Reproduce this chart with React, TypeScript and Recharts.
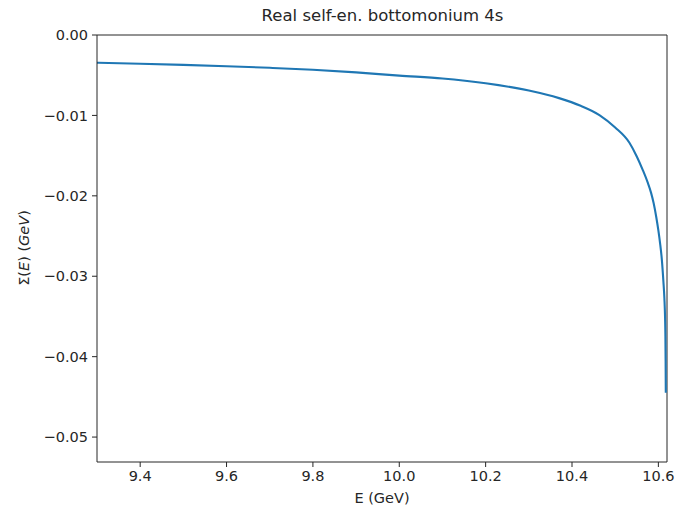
import { Label, Line, LineChart, ReferenceLine, XAxis, YAxis } from "recharts";

const energy = [
  9.3, 9.4, 9.5, 9.6, 9.7, 9.8, 9.9, 10.0, 10.1, 10.2, 10.3, 10.37, 10.42, 10.4635, 10.5, 10.533, 10.55, 10.564,
  10.575, 10.583, 10.589, 10.595, 10.6, 10.604, 10.608, 10.6116, 10.614, 10.6155, 10.6163, 10.6168, 10.6172,
];
const selfEnergy = [
  -0.00345, -0.00358, -0.00372, -0.00388, -0.00408, -0.00432, -0.00465, -0.00505, -0.0054, -0.006, -0.0069,
  -0.00785, -0.0088, -0.00995, -0.0115, -0.0134, -0.0151, -0.0168, -0.0183, -0.0196, -0.0209, -0.0226,
  -0.0243, -0.0259, -0.0279, -0.0306, -0.0328, -0.0351, -0.0375, -0.0405, -0.0445,
];
const xTicks = [9.4, 9.6, 9.8, 10.0, 10.2, 10.4, 10.6];
const yTicks = [0, -0.01, -0.02, -0.03, -0.04, -0.05];

const data = energy.map((e, i) => ({ e, sigma: selfEnergy[i] }));

const xMin = 9.3;
const xMax = 10.62;
const yMin = -0.0531;
const yMax = 0;

const font = "'DejaVu Sans', sans-serif";
const ink = "#262626";

const fmtY = (v: number) => (v === 0 ? "0.00" : `\u2212${Math.abs(v).toFixed(2)}`);

export default function App() {
  return (
    <div style={{ position: "absolute", left: 0, top: 0, width: 675, height: 512, background: "#fff", fontFamily: font }}>
      <div
        style={{
          position: "absolute",
          left: 97,
          width: 571,
          top: 6,
          textAlign: "center",
          fontSize: 16.5,
          color: ink,
        }}
      >
        Real self-en. bottomonium 4s
      </div>
      <LineChart width={675} height={512} data={data} margin={{ top: 35, right: 8, bottom: 0, left: 0 }}>
        <XAxis
          dataKey="e"
          type="number"
          domain={[xMin, xMax]}
          ticks={xTicks}
          tickFormatter={(v: number) => v.toFixed(1)}
          allowDataOverflow
          height={50}
          stroke={ink}
          tickSize={5}
          tick={{ fill: ink, fontSize: 14.5, fontFamily: font }}
          tickMargin={4}
        >
          <Label value="E (GeV)" position="insideBottom" offset={9} fill={ink} fontSize={14.5} fontFamily={font} />
        </XAxis>
        <YAxis
          type="number"
          domain={[yMin, yMax]}
          ticks={yTicks}
          tickFormatter={fmtY}
          allowDataOverflow
          width={97}
          stroke={ink}
          tickSize={5}
          tick={{ fill: ink, fontSize: 14.5, fontFamily: font }}
          tickMargin={4}
        >
          <Label
            content={() => (
              <text
                x={24}
                y={248}
                transform="rotate(-90 24 248)"
                textAnchor="middle"
                dominantBaseline="central"
                fill={ink}
                fontSize={14.5}
                fontFamily={font}
              >
                Σ(<tspan fontStyle="italic">E</tspan>) (<tspan fontStyle="italic">GeV</tspan>)
              </text>
            )}
          />
        </YAxis>
        {/* frame: top and right spines */}
        <ReferenceLine y={yMax} stroke={ink} strokeWidth={1} />
        <ReferenceLine x={xMax} stroke={ink} strokeWidth={1} />
        <Line
          dataKey="sigma"
          type="monotone"
          stroke="#1f77b4"
          strokeWidth={2.1}
          dot={false}
          isAnimationActive={false}
        />
      </LineChart>
    </div>
  );
}
